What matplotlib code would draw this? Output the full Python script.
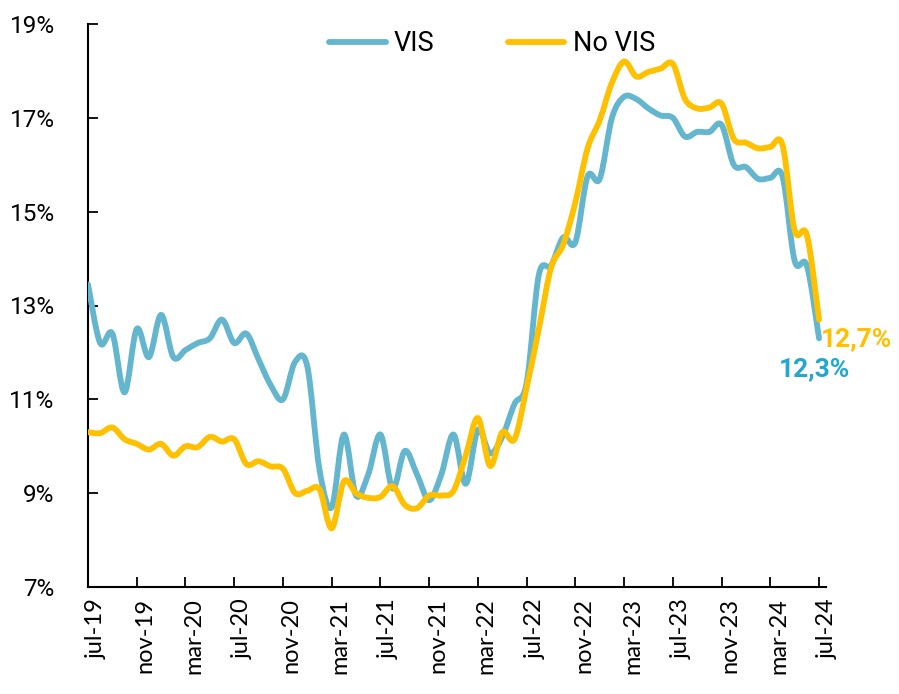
import matplotlib
matplotlib.use("Agg")
import matplotlib.pyplot as plt
import matplotlib.transforms as mtransforms
from matplotlib import font_manager
from matplotlib.path import Path
from matplotlib.patches import PathPatch
from matplotlib.lines import Line2D
import numpy as np

# monthly values, jul-19 .. jul-24
tick_labels = ["jul-19", "nov-19", "mar-20", "jul-20", "nov-20", "mar-21", "jul-21", "nov-21",
               "mar-22", "jul-22", "nov-22", "mar-23", "jul-23", "nov-23", "mar-24", "jul-24"]

vis = [13.45, 12.2, 12.4, 11.15, 12.5, 11.9, 12.8, 11.9, 12.05, 12.2,
       12.3, 12.7, 12.2, 12.4, 11.85, 11.3, 11.0, 11.8, 11.7, 9.5,
       8.7, 10.25, 8.95, 9.4, 10.25, 9.1, 9.9, 9.4, 8.85, 9.4,
       10.25, 9.2, 10.35, 9.85, 10.2, 10.9, 11.35, 13.65, 13.85, 14.45,
       14.35, 15.75, 15.7, 17.0, 17.45, 17.4, 17.2, 17.05, 17.0, 16.6,
       16.7, 16.7, 16.85, 16.0, 15.95, 15.7, 15.72, 15.75, 13.95, 13.85,
       12.3]

no_vis = [10.3, 10.28, 10.4, 10.15, 10.05, 9.93, 10.05, 9.8, 10.0, 9.98,
          10.2, 10.1, 10.15, 9.62, 9.68, 9.57, 9.52, 9.0, 9.05, 9.08,
          8.25, 9.25, 9.0, 8.9, 8.92, 9.15, 8.75, 8.68, 8.95, 8.95,
          9.05, 9.8, 10.6, 9.58, 10.3, 10.15, 11.25, 12.5, 13.8, 14.3,
          15.2, 16.35, 16.95, 17.75, 18.2, 17.88, 17.98, 18.05, 18.15, 17.4,
          17.2, 17.22, 17.3, 16.55, 16.47, 16.35, 16.38, 16.42, 14.6, 14.5,
          12.7]

c_vis = "#63B6CD"
c_novis = "#FFC000"
c_vis_lbl = "#22A8CF"

names = {f.name for f in font_manager.fontManager.ttflist}
narrow = "Liberation Sans Narrow" if "Liberation Sans Narrow" in names else "Roboto"


def smooth_path(y):
	# excel-like smoothed line: cubic bezier through every data point
	pts = np.column_stack([np.arange(len(y), dtype=float), np.asarray(y, dtype=float)])
	n = len(pts)
	verts = [pts[0]]
	codes = [Path.MOVETO]
	for i in range(n - 1):
		p0 = pts[max(i - 1, 0)]
		p1 = pts[i]
		p2 = pts[i + 1]
		p3 = pts[min(i + 2, n - 1)]
		verts += [p1 + (p2 - p0) / 6.0, p2 - (p3 - p1) / 6.0, p2]
		codes += [Path.CURVE4] * 3
	return Path(verts, codes)


fig = plt.figure(figsize=(8.99, 6.94), dpi=100)
ax = fig.add_axes([88 / 899, 1 - 587 / 694, (826 - 88) / 899, (587 - 24) / 694])

for series, col in [(vis, c_vis), (no_vis, c_novis)]:
	patch = PathPatch(smooth_path(series), fill=False, ec=col, lw=4.2,
	                  capstyle="round", joinstyle="round", zorder=3)
	ax.add_patch(patch)

ax.set_xlim(0, 60.57)
ax.set_ylim(7, 19)

ax.set_xticks(np.arange(0, 61, 4))
ax.set_xticklabels(tick_labels, rotation=90, family="Lato", fontsize=17)
ax.set_yticks(np.arange(7, 20, 2))
ax.set_yticklabels([f"{v}%" for v in range(7, 20, 2)], family=narrow, fontsize=17.5)

ax.tick_params(axis="x", direction="in", length=7, width=1.3, pad=8)
ax.tick_params(axis="y", direction="in", length=7, width=1.3, pad=24)
for lab in ax.get_xticklabels():
	lab.set_transform(lab.get_transform() + mtransforms.ScaledTranslation(6 / 72, 0, fig.dpi_scale_trans))

for s in ["top", "right"]:
	ax.spines[s].set_visible(False)
for s in ["left", "bottom"]:
	ax.spines[s].set_linewidth(1.5)

handles = [Line2D([], [], color=c_vis, lw=4.2, solid_capstyle="round"),
           Line2D([], [], color=c_novis, lw=4.2, solid_capstyle="round")]
fig.legend(handles, ["VIS", "No VIS"], loc="center", bbox_to_anchor=(0.547, 0.9366),
           ncol=2, frameon=False, prop={"family": narrow, "size": 19.5},
           handlelength=2.1, handletextpad=0.3, columnspacing=2.7)

ax.annotate("12,7%", xy=(60, no_vis[-1]), xytext=(1.5, -14), textcoords="offset points",
            ha="left", va="center", color=c_novis, fontsize=19, fontweight="bold", family=narrow)
ax.annotate("12,3%", xy=(60, vis[-1]), xytext=(-3.6, -22.5), textcoords="offset points",
            ha="center", va="center", color=c_vis_lbl, fontsize=19, fontweight="bold", family=narrow)

fig.savefig("out.png", dpi=100)
